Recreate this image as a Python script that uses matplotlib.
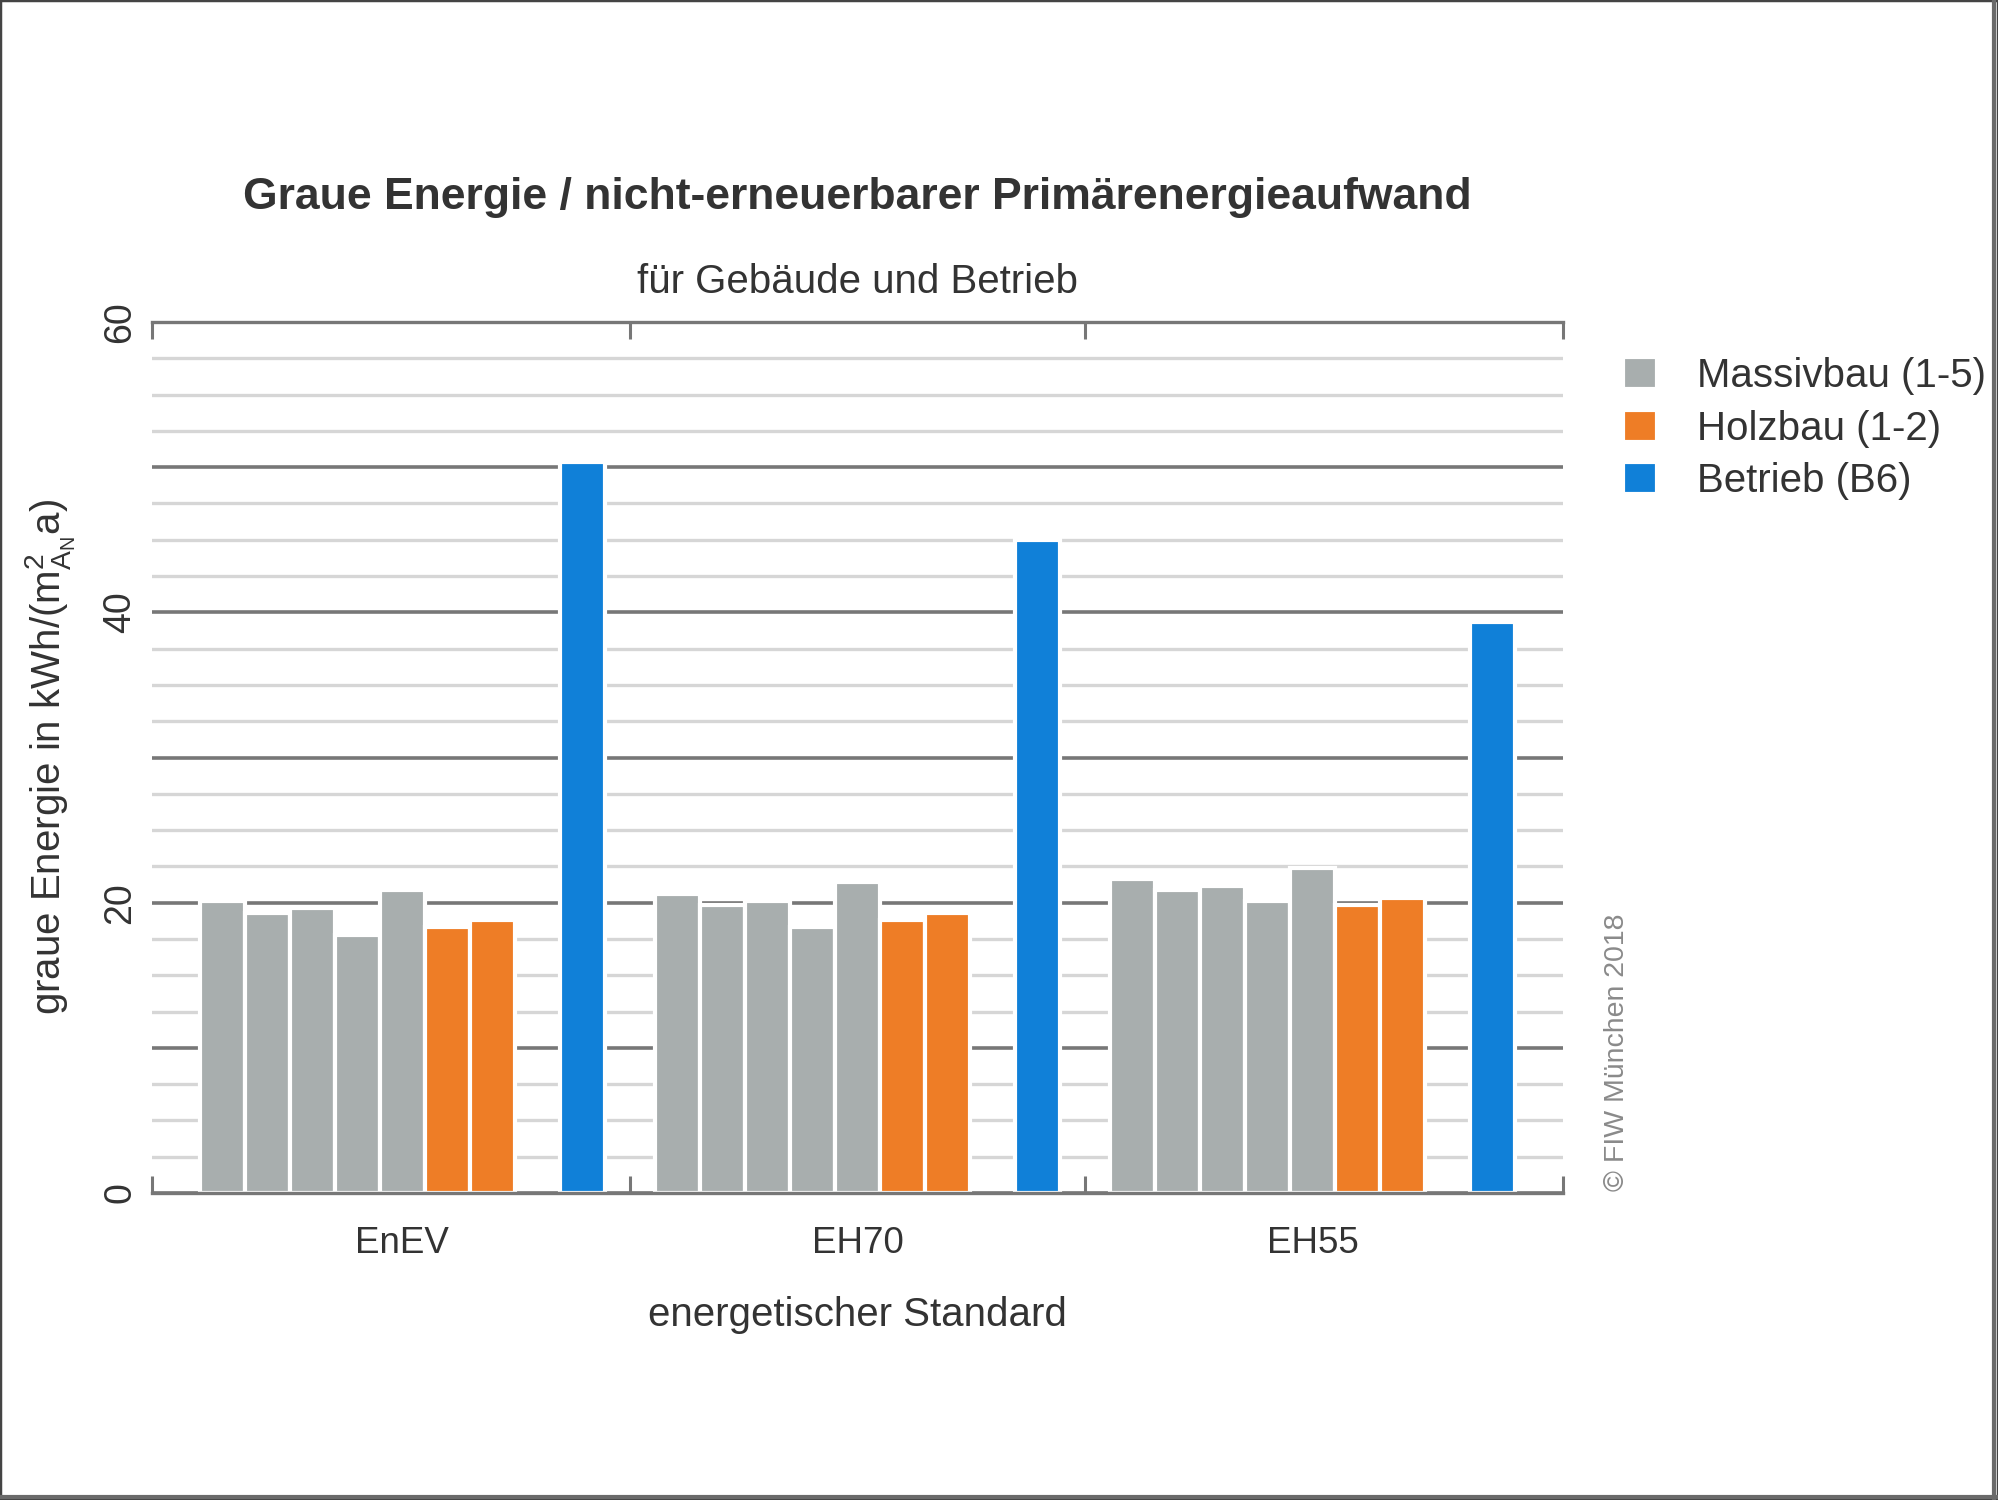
import numpy as np
import matplotlib.pyplot as plt
from matplotlib.patches import Rectangle
from matplotlib.lines import Line2D

plt.rcParams['font.family'] = ['Liberation Sans', 'DejaVu Sans']
plt.rcParams['mathtext.fontset'] = 'custom'
plt.rcParams['mathtext.rm'] = 'Liberation Sans'
plt.rcParams['mathtext.it'] = 'Liberation Sans:italic'

# data
categories = ['EnEV', 'EH70', 'EH55']
massivbau = [[20.1, 19.3, 19.6, 17.8, 20.9],     # Massivbau 1-5 per standard
             [20.6, 19.85, 20.1, 18.3, 21.4],
             [21.65, 20.9, 21.15, 20.1, 22.4]]
holzbau = [[18.3, 18.8],                          # Holzbau 1-2 per standard
           [18.8, 19.3],
           [19.85, 20.35]]
betrieb = [50.35, 45.0, 39.35]                    # Betrieb (B6)

legend_labels = ['Massivbau (1-5)', 'Holzbau (1-2)', 'Betrieb (B6)']

GRAY = '#a8aeae'
ORANGE = '#ee7d26'
BLUE = '#1080d8'
TXT = '#333333'
AXC = '#777777'

fig = plt.figure(figsize=(19.98, 15), dpi=100)
ax = fig.add_axes([0.0761, 0.2047, 0.7062, 0.5806])

x = np.arange(len(categories))
slot = 0.099
m = np.array(massivbau)
h = np.array(holzbau)

bar_kw = dict(width=slot, edgecolor='white', linewidth=3, zorder=2)
# 9 slots per group: 5 massiv, 2 holz, empty, betrieb
for j in range(m.shape[1]):
    ax.bar(x + (j - 4) * slot, m[:, j], color=GRAY,
           label=legend_labels[0] if j == 0 else None, **bar_kw)
for j in range(h.shape[1]):
    ax.bar(x + (j + 1) * slot, h[:, j], color=ORANGE,
           label=legend_labels[1] if j == 0 else None, **bar_kw)
ax.bar(x + 4 * slot, betrieb, color=BLUE, label=legend_labels[2], **bar_kw)

ax.set_xlim(-0.55, 2.55)
ax.set_ylim(0, 60)

# y grid: dark every 10, light every 2.5, labels only every 20
ax.set_yticks(np.arange(0, 61, 10))
ax.set_yticklabels(['0', '', '20', '', '40', '', '60'])
ax.set_yticks(np.arange(0, 60.1, 2.5), minor=True)
ax.yaxis.grid(True, which='major', color=AXC, linewidth=2.6, zorder=1)
ax.yaxis.grid(True, which='minor', color='#d6d6d6', linewidth=2.4, zorder=0.5)
ax.set_axisbelow(True)
ax.tick_params(axis='y', which='both', length=0, pad=10, labelsize=27,
               labelcolor=TXT)
for lab in ax.get_yticklabels():
    lab.set_rotation(90)
    lab.set_va('center')

# x: category labels + separator ticks on top and bottom line
ax.set_xticks(x)
ax.set_xticklabels(categories)
ax.set_xticks([-0.55, 0.5, 1.5, 2.55], minor=True)
ax.tick_params(axis='x', which='major', length=0, pad=24, labelsize=26.5,
               labelcolor=TXT)
ax.tick_params(axis='x', which='minor', direction='in', length=12, width=2.2,
               color=AXC, top=True, bottom=True)

for s in ['left', 'right']:
    ax.spines[s].set_visible(False)
for s in ['top', 'bottom']:
    ax.spines[s].set_color(AXC)
    ax.spines[s].set_linewidth(2.4)

ax.set_xlabel('energetischer Standard', fontsize=29, color=TXT, labelpad=25)
ax.set_ylabel(r'graue Energie in kWh/(m$^{2}_{\mathrm{A_N}}$a)', fontsize=29,
              color=TXT)
ax.yaxis.label.set_va('center')
ax.yaxis.set_label_coords(-0.072, 0.5)

# titles
fig.text(0.429, 0.868, 'Graue Energie / nicht-erneuerbarer Primärenergieaufwand',
         ha='center', va='center', fontsize=32, fontweight='bold', color=TXT)
fig.text(0.429, 0.812, 'für Gebäude und Betrieb', ha='center', va='center',
         fontsize=29, color=TXT)

# copyright
fig.text(0.8095, 0.206, '© FIW München 2018', rotation=90, ha='center',
         va='bottom', fontsize=20.5, color='#8a8a8a')

fig.legend(loc='upper left', bbox_to_anchor=(0.8123, 0.762), frameon=False,
           fontsize=29, borderpad=0, borderaxespad=0, handlelength=0.85,
           handleheight=0.85, handletextpad=1.0, labelspacing=0.36,
           labelcolor=TXT)

# frame around the picture
fig.add_artist(Rectangle((0, 0), 1, 1, transform=fig.transFigure, fill=False,
                         edgecolor='#444444', linewidth=2.5))
fig.add_artist(Line2D([0.998, 0.998], [0, 1], transform=fig.transFigure,
                      color='#6a6a6a', linewidth=3))
fig.add_artist(Line2D([0, 1], [0.002, 0.002], transform=fig.transFigure,
                      color='#6a6a6a', linewidth=3))

fig.savefig('out.png', dpi=100, facecolor='white')
